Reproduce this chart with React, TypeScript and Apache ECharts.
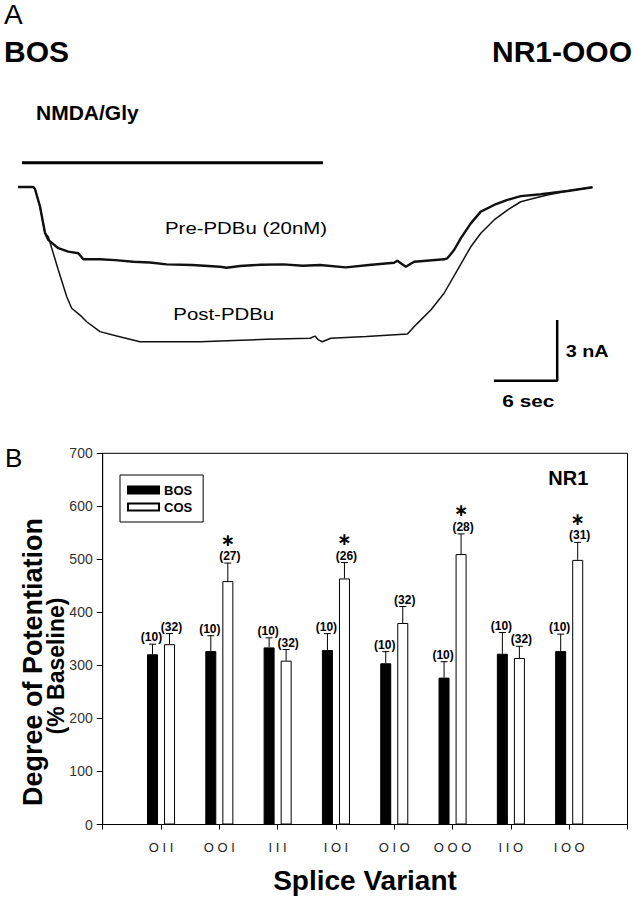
import React, { useEffect, useRef } from "react";
import * as echarts from "echarts";

// ---------- Panel B data ----------
const categories = ["O I I", "O O I", "I I I", "I O I", "O I O", "O O O", "I I O", "I O O"];
const bosMean = [321, 327, 334, 329, 304, 277, 322, 327];
const bosErr = [19, 29, 18, 31, 22, 30, 40, 32];
const bosN = [10, 10, 10, 10, 10, 10, 10, 10];
const cosMean = [340, 459, 309, 464, 380, 510, 314, 499];
const cosErr = [20, 34, 21, 30, 31, 38, 22, 33];
const cosN = [32, 27, 32, 26, 32, 28, 32, 31];
const cosSig = [0, 1, 0, 1, 0, 1, 0, 1];
const bosSig = [0, 0, 0, 0, 0, 0, 0, 0];
const yTicks = [0, 100, 200, 300, 400, 500, 600, 700];

// ---------- Panel A data (time in s, current in nA) ----------
const preTrace: [number, number][] = [
  [0, 0], [1.45, 0], [1.61, -0.1], [2.09, -0.98], [2.56, -2.28], [2.87, -2.62], [3.82, -3.03],
  [4.77, -3.2], [5.72, -3.28], [6.19, -3.58], [7.77, -3.58], [9.2, -3.62], [10.93, -3.7],
  [12.5, -3.74], [14.09, -3.83], [16.5, -3.86], [19.15, -3.95], [19.78, -4.0], [21.04, -3.91],
  [23.0, -3.85], [25.15, -3.83], [27.0, -3.9], [28.63, -3.86], [31.06, -3.98], [33.5, -3.85],
  [35.64, -3.75], [35.95, -3.65], [36.75, -3.95], [37.54, -3.7], [40.38, -3.58], [40.69, -3.53],
  [41.33, -3.12], [41.96, -2.54], [42.91, -1.8], [43.86, -1.22], [45.12, -0.89], [46.38, -0.64],
  [47.65, -0.45], [49.55, -0.36], [52.07, -0.2], [54.44, -0.01],
];
const postTrace: [number, number][] = [
  [0, 0], [1.45, 0], [1.61, -0.1], [2.09, -0.98], [2.56, -2.28], [2.87, -2.46], [3.82, -4.11],
  [4.62, -5.43], [5.09, -6.0], [6.04, -6.42], [6.51, -6.67], [7.77, -7.16], [9.36, -7.38],
  [11.56, -7.66], [14.5, -7.66], [17.25, -7.66], [20.5, -7.6], [23.57, -7.54], [27.68, -7.49],
  [28.15, -7.38], [28.47, -7.57], [28.84, -7.66], [29.64, -7.49], [33.0, -7.4], [36.9, -7.28],
  [37.85, -6.75], [39.12, -6.09], [40.38, -5.26], [41.64, -4.11], [42.91, -2.96], [43.86, -2.29],
  [45.12, -1.63], [46.38, -1.14], [47.65, -0.73], [48.91, -0.56], [50.17, -0.4], [52.07, -0.2],
  [54.44, -0.01],
];
const nmdaBar: [number, number][] = [[0.38, 1.2], [28.9, 1.2]];
const scaleBar: [number, number][] = [[45.1, -9.59], [51.1, -9.59], [51.1, -6.59]];

const FONT = "'Liberation Sans', Arial, Helvetica, sans-serif";

function errorSeries(name: string, mean: number[], err: number[], ns: number[], sig: number[], offset: number, labelShift: number) {
  return {
    type: "custom",
    name,
    xAxisIndex: 0,
    yAxisIndex: 0,
    z: 5,
    data: mean.map((m, i) => [i + 1, m, err[i], ns[i], sig[i]]),
    renderItem: (params: any, api: any) => {
      const idx = api.value(0);
      const m = api.value(1);
      const e = api.value(2);
      const n = api.value(3);
      const s = api.value(4);
      const p0 = api.coord([idx, m]);
      const p1 = api.coord([idx, m + e]);
      const x = p0[0] + offset;
      const children: any[] = [
        { type: "line", shape: { x1: x, y1: p0[1], x2: x, y2: p1[1] }, style: { stroke: "#000", lineWidth: 1 } },
        { type: "line", shape: { x1: x - 3.5, y1: p1[1], x2: x + 3.5, y2: p1[1] }, style: { stroke: "#000", lineWidth: 1 } },
        {
          type: "text",
          x: x + labelShift,
          y: p1[1] - 7,
          style: { text: "(" + n + ")", font: "bold 12px " + FONT, fill: "#000", align: "center", verticalAlign: "middle", lineHeight: 11 },
        },
      ];
      if (s) {
        children.push({
          type: "text",
          x: x,
          y: p1[1] - 23.5,
          style: { text: "\u2217", font: "bold 17px 'DejaVu Sans', sans-serif", fill: "#000", align: "center", verticalAlign: "middle", lineHeight: 14 },
        });
      }
      return { type: "group", children };
    },
  };
}

export default function App() {
  const ref = useRef<HTMLDivElement>(null);
  useEffect(() => {
    if (!ref.current) return;
    const chart = echarts.init(ref.current, null, { renderer: "svg" });
    const txt = (text: string, x: number, y: number, font: string, align = "left", extra: any = {}) => ({
      type: "text",
      x,
      y,
      ...extra,
      style: { text, font, fill: "#000", align, verticalAlign: "middle" },
    });
    const option: any = {
      animation: false,
      backgroundColor: "#fff",
      grid: [
        { left: 102.7, top: 453.3, right: 6.5, bottom: 74.5, show: true, borderColor: "#000", borderWidth: 1, backgroundColor: "transparent" },
        { left: 18, width: 612, top: 136.5, height: 252.5 },
      ],
      legend: {
        data: ["BOS", "COS"],
        orient: "vertical",
        left: 120,
        top: 475,
        padding: [8, 11, 8, 7],
        itemWidth: 31,
        itemHeight: 7,
        itemGap: 3,
        icon: "rect",
        borderColor: "#000",
        borderWidth: 1,
        textStyle: { fontSize: 13, fontWeight: "bold", fontFamily: FONT, color: "#000", lineHeight: 14 },
      },
      xAxis: [
        {
          type: "category",
          gridIndex: 0,
          data: ["", ...categories, ""],
          boundaryGap: false,
          axisLine: { lineStyle: { color: "#000", width: 1 } },
          axisTick: { length: 5, lineStyle: { color: "#000" } },
          axisLabel: { interval: 0, margin: 16, fontSize: 13, color: "#222", fontFamily: FONT },
          splitLine: { show: false },
        },
        { type: "value", gridIndex: 1, min: 0, max: 58, show: false },
      ],
      yAxis: [
        {
          type: "value",
          gridIndex: 0,
          min: yTicks[0],
          max: yTicks[yTicks.length - 1],
          interval: 100,
          axisLine: { show: true, lineStyle: { color: "#000", width: 1 } },
          axisTick: { show: true, length: 6, lineStyle: { color: "#000" } },
          axisLabel: { margin: 10, fontSize: 14, color: "#333", fontFamily: FONT },
          splitLine: { show: false },
        },
        { type: "value", gridIndex: 1, min: -10, max: 2.5, show: false },
      ],
      series: [
        {
          type: "bar",
          name: "BOS",
          xAxisIndex: 0,
          yAxisIndex: 0,
          barWidth: 11,
          barGap: "55%",
          data: ["-", ...bosMean, "-"],
          itemStyle: { color: "#000", borderColor: "#000", borderWidth: 1 },
        },
        {
          type: "bar",
          name: "COS",
          xAxisIndex: 0,
          yAxisIndex: 0,
          barWidth: 11,
          barGap: "55%",
          data: ["-", ...cosMean, "-"],
          itemStyle: { color: "#fff", borderColor: "#000", borderWidth: 1 },
        },
        errorSeries("BOS-err", bosMean, bosErr, bosN, bosSig, -8.5, -1),
        errorSeries("COS-err", cosMean, cosErr, cosN, cosSig, 8.5, 2),
        {
          type: "line", name: "Pre-PDBu", xAxisIndex: 1, yAxisIndex: 1, data: preTrace, showSymbol: false,
          lineStyle: { color: "#111", width: 2.4 },
        },
        {
          type: "line", name: "Post-PDBu", xAxisIndex: 1, yAxisIndex: 1, data: postTrace, showSymbol: false,
          lineStyle: { color: "#111", width: 1.5 },
        },
        {
          type: "line", name: "NMDA/Gly bar", xAxisIndex: 1, yAxisIndex: 1, data: nmdaBar, showSymbol: false,
          lineStyle: { color: "#000", width: 3 },
        },
        {
          type: "line", name: "scale", xAxisIndex: 1, yAxisIndex: 1, data: scaleBar, showSymbol: false,
          lineStyle: { color: "#000", width: 2.5 },
        },
      ],
      graphic: [
        txt("A", 4, 14.5, "28px " + FONT),
        txt("BOS", 4, 51, "bold 30px " + FONT),
        txt("NR1-OOO", 632, 51, "bold 30px " + FONT, "right"),
        txt("NMDA/Gly", 36, 112, "bold 21px " + FONT),
        txt("Pre-PDBu (20nM)", 165, 228.3, "17px " + FONT, "left", { scaleX: 1.2 }),
        txt("Post-PDBu", 173.3, 314, "17px " + FONT, "left", { scaleX: 1.2 }),
        txt("3 nA", 565.7, 351.7, "bold 16px " + FONT, "left", { scaleX: 1.24 }),
        txt("6 sec", 502.3, 401.7, "bold 16px " + FONT, "left", { scaleX: 1.3 }),
        txt("B", 5, 457.5, "26px " + FONT),
        txt("Degree of Potentiation", 33, 662, "bold 27px " + FONT, "center", { rotation: Math.PI / 2 }),
        txt("(% Baseline)", 56, 666, "bold 23px " + FONT, "center", { rotation: Math.PI / 2 }),
        txt("NR1", 548.3, 478.3, "bold 20px " + FONT),
        txt("Splice Variant", 365, 880, "bold 28px " + FONT, "center"),
      ],
    };
    chart.setOption(option);
    return () => chart.dispose();
  }, []);
  return <div ref={ref} style={{ position: "absolute", left: 0, top: 0, width: 634, height: 899, background: "#fff" }} />;
}
